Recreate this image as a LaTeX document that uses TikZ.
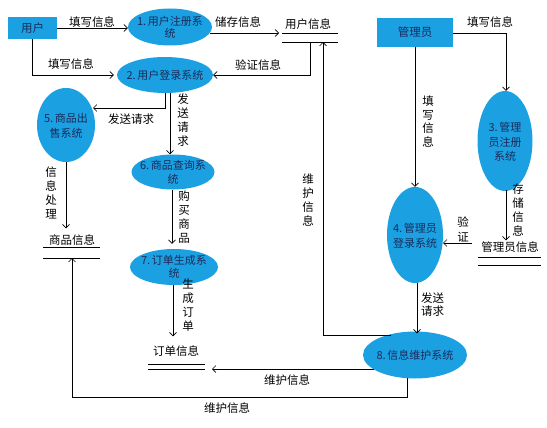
\documentclass[tikz,border=0pt]{standalone}
\usepackage{fontspec}
\setmainfont{Noto Sans CJK SC}
\usetikzlibrary{arrows.meta,shapes.geometric,calc}
\definecolor{fillblue}{HTML}{1BA1E2}
\definecolor{txtblue}{HTML}{1A2A5A}
\begin{document}
\begin{tikzpicture}[x=1pt,y=-1pt,
  proc/.style={ellipse, fill=fillblue, inner sep=0pt},
  ptext/.style={font=\fontsize{11}{14}\selectfont, text=txtblue, align=center, inner sep=0pt},
  ext/.style={rectangle, fill=fillblue, inner sep=0pt, font=\fontsize{11.5}{13}\selectfont, text=txtblue},
  lbl/.style={font=\fontsize{11.5}{13}\selectfont, inner sep=0pt},
  vlbl/.style={font=\fontsize{11.5}{14}\selectfont, align=center, inner sep=0pt},
  flow/.style={-{Straight Barb[length=3.5pt,width=7pt]}, line width=0.7pt},
  ln/.style={line width=0.7pt}]
\useasboundingbox (0,0) rectangle (547,428);

% external entities
\node[ext, minimum width=49, minimum height=22] (user) at (32.5,28) {用户};
\node[ext, minimum width=76, minimum height=29] (admin) at (415,32.5) {管理员};

% processes
\node[proc, minimum width=84, minimum height=37] (p1) at (170,27) {};
\node[ptext, font=\fontsize{11}{12}\selectfont] at (p1) {1.\,用户注册系\\统};
\node[proc, minimum width=96, minimum height=36] (p2) at (165,75) {};
\node[ptext] at (p2) {2.\,用户登录系统};
\node[proc, minimum width=58, minimum height=74] (p5) at (66,125) {};
\node[ptext, font=\fontsize{11}{15}\selectfont] at (66,126) {5.\,商品出\\售系统};
\node[proc, minimum width=83, minimum height=35] (p6) at (173,172) {};
\node[ptext] at (p6) {6.\,商品查询系\\统};
\node[proc, minimum width=88, minimum height=36] (p7) at (174,267) {};
\node[ptext, font=\fontsize{11}{13}\selectfont] at (p7) {7.\,订单生成系\\统};
\node[proc, minimum width=55, minimum height=100] (p3) at (505,141) {};
\node[ptext, font=\fontsize{11}{14.5}\selectfont] at (505,142) {3.\,管理\\员注册\\系统};
\node[proc, minimum width=56, minimum height=96] (p4) at (415,235) {};
\node[ptext, font=\fontsize{11}{15}\selectfont] at (415,235.5) {4.\,管理员\\登录系统};
\node[proc, minimum width=104, minimum height=47] (p8) at (415,355) {};
\node[ptext] at (p8) {8.\,信息维护系统};

% data stores
\node[lbl] (ds1) at (308,24) {用户信息};
\draw[ln] (282,33) coordinate (ds1t) -- (338,33);
\draw[ln] (282,42) -- (338,42);
\node[lbl] (ds2) at (72,240) {商品信息};
\draw[ln] (43,247) -- (100,247);
\draw[ln] (43,258) coordinate (ds2b) -- (100,258);
\node[lbl] (ds3) at (176,351) {订单信息};
\draw[ln] (148,364) -- (205,364);
\draw[ln] (148,369) -- (205,369);
\node[lbl] (ds4) at (510,247) {管理员信息};
\draw[ln] (478,257) -- (541,257);
\draw[ln] (478,265) -- (541,265);

% connectors
\draw[flow] (user.east |- 0,28) -- (p1.west |- 0,28);
\node[lbl] at (92,22) {填写信息};

\draw[flow] ($(p1.east)+(-2,6)$) -- ($(ds1t)+(-3,0)$);
\node[lbl] at (238,22) {储存信息};

\draw[flow] (310,42) |- (p2.east);
\node[lbl] at (258,65) {验证信息};

\draw[flow] (user.south) |- ($(p2.west)+(-3,0)$);
\node[lbl] at (71,64) {填写信息};

\draw[flow] (p2.south) |- ($(p5.center)+(27,-17)$);
\node[lbl] at (131,119) {发送请求};

\draw[flow] ($(p2.south)+(5,0)$) -- ($(p6.north)+(-3,0)$);
\node[vlbl] at (183,120.5) {发\\送\\请\\求};

\draw[flow] (p5.south) -- ($(ds2.north)+(-6,-6)$);
\node[vlbl] at (51,193) {信\\息\\处\\理};

\draw[flow] ($(p6.south)+(-1,0)$) -- ($(p7.north)+(-2,-5)$);
\node[vlbl] at (184,217) {购\\买\\商\\品};

\draw[flow] ($(p7.south)+(-1,0)$) -- ($(ds3.north)+(-3,-9)$);
\node[vlbl, font=\fontsize{11.5}{13.8}\selectfont] at (188,305) {生\\成\\订\\单};

\draw[flow] ($(p8.center)+(-41,14)$) -- (212,369);
\node[lbl] at (287,380) {维护信息};

\draw[flow] ($(p8.south)+(-8,-1)$) -- (407,397) -| (ds2b -| 72,0);
\node[lbl] at (227,408) {维护信息};

\draw[flow] ($(p8.center)+(-24,-20)$) -| (323,42);
\node[vlbl, font=\fontsize{11.5}{13.7}\selectfont] at (308,200) {维\\护\\信\\息};

\draw[flow] (admin.east |- 0,33) -| (p3.north -| 506,0);
\node[lbl] at (490,22) {填写信息};

\draw[flow] (admin.south) -- (p4.north);
\node[vlbl, font=\fontsize{11.5}{13.7}\selectfont] at (428,121.5) {填\\写\\信\\息};

\draw[flow] (506,190) -- ($(ds4.north)+(-4,-1)$);
\node[vlbl] at (518,210) {存\\储\\信\\息};

\draw[flow] (472,243) -- ($(p4.center)+(28,8)$);
\node[vlbl, font=\fontsize{11.5}{15}\selectfont] at (463,229.5) {验\\证};

\draw[flow] ($(p4.south)+(2,0)$) -- ($(p8.north)+(2,2)$);
\node[lbl, align=left, font=\fontsize{11.5}{13}\selectfont] at (432.5,304.5) {发送\\请求};
\end{tikzpicture}
\end{document}
